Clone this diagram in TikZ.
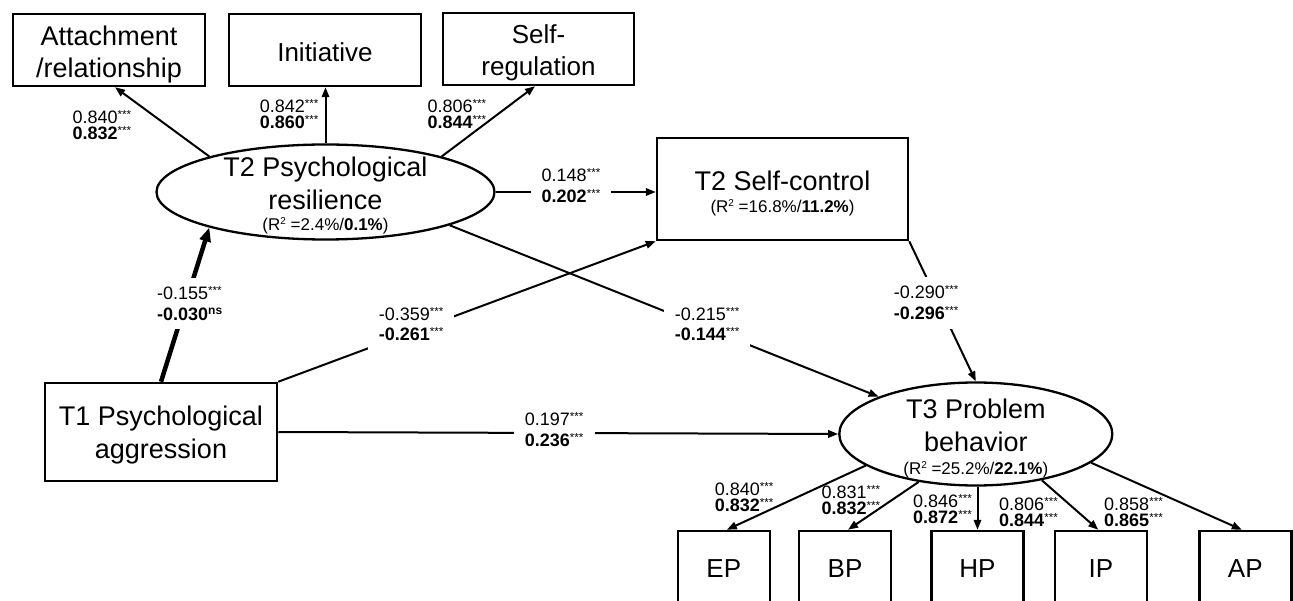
\documentclass[tikz,border=0pt]{standalone}
\usepackage{fontspec}
\setmainfont{Liberation Sans}
\usetikzlibrary{arrows.meta,shapes.geometric,calc}
\newcommand\sig[1]{\raisebox{5pt}{\fontsize{11.6}{11.6}\selectfont #1}}
\newcommand\nsig{\raisebox{6pt}{\fontsize{12}{12}\selectfont\bfseries ns}}
\newcommand\rsq[2]{{\fontsize{17}{17}\selectfont (R\raisebox{6pt}{\fontsize{10}{10}\selectfont 2} =#1/\textbf{#2})}}
\newcommand\tp[1]{\rule{0pt}{#1}}
\begin{document}
\begin{tikzpicture}[x=1pt,y=-1pt,
 box/.style={draw,line width=2.5pt,rectangle,inner sep=0pt,align=center,font=\fontsize{26}{32}\selectfont},
 bigbox/.style={box,font=\fontsize{27}{32}\selectfont},
 lat/.style={draw,line width=2.3pt,ellipse,inner sep=0pt},
 txt/.style={align=center,inner sep=0pt,font=\fontsize{27}{33}\selectfont},
 arr/.style={line width=2pt,-{Triangle[length=10pt,width=7.5pt]}},
 thk/.style={line width=4.5pt,-{Triangle[length=14pt,width=11pt]}},
 lab/.style={align=left,inner sep=0pt,font=\fontsize{18}{16}\selectfont},
 labm/.style={align=left,fill=white,inner xsep=11pt,inner ysep=9pt,font=\fontsize{18}{20.5}\selectfont},
]
\fill[white] (0,0) rectangle (1293,601);
\useasboundingbox (0,0) rectangle (1293,601);
\clip (0,0) rectangle (1293,601);

% nodes
\node[bigbox,minimum width=192pt,minimum height=72pt] (att) at (109,50) {\tp{28pt}Attachment\\/relationship};
\node[box,minimum width=192pt,minimum height=72pt] (ini) at (325,50) {\tp{23.8pt}Initiative};
\node[box,minimum width=191pt,minimum height=72pt] (sr) at (538.5,49) {\tp{27pt}Self-\\regulation};
\node[lat,minimum width=338pt,minimum height=95pt] (t2) at (325.5,192) {};
\node[txt] (t2t) at ($(t2)+(0,3.3)$) {T2 Psychological\\resilience\\[-12pt]\rsq{2.4\%}{0.1\%}};
\node[bigbox,minimum width=251pt,minimum height=102pt] (sc) at (782.5,189) {\tp{28pt}T2 Self-control\\[-10pt]\rsq{16.8\%}{11.2\%}};
\node[bigbox,minimum width=232pt,minimum height=98pt] (t1) at (161,432) {\tp{25pt}T1 Psychological\\[1pt]aggression};
\node[lat,minimum width=273pt,minimum height=103pt] (t3) at (975.8,434) {};
\node[txt] (t3t) at ($(t3)+(0,4.5)$) {T3 Problem\\behavior\\[-10pt]\rsq{25.2\%}{22.1\%}};
\node[box,minimum width=92pt,minimum height=76pt] (ep) at (723.8,569) {EP};
\node[box,minimum width=92pt,minimum height=76pt] (bp) at (845,569) {BP};
\node[box,minimum width=92pt,minimum height=76pt] (hp) at (977.5,569) {HP};
\node[box,minimum width=92pt,minimum height=76pt] (ip) at (1100.8,569) {IP};
\node[box,minimum width=92pt,minimum height=76pt] (ap) at (1245.3,569) {AP};

% connectors
\draw[arr] (t2.163) -- ([xshift=6pt]att.south);
\draw[arr] (t2.north) -- (t2.north |- ini.south);
\draw[arr] (t2.17) -- ([xshift=-3.5pt]sr.south);
\draw[arr] (t2.east) -- (t2.east -| sc.west);
\draw[arr] (t2.-15) -- (t3.159);
\draw[arr] (sc.south east) -- (t3.north);
\draw[thk] (t1.north) -- (t2.197);
\draw[arr] (t1.north east) -- (sc.south west);
\draw[arr] (t1.east) -- (t3.west);
\draw[arr] (t3.196) -- ([xshift=3pt]ep.north);
\draw[arr] (t3.220) -- ([xshift=3pt]bp.north);
\draw[arr] (t3.south -| hp.north) -- (hp.north);
\draw[arr] (t3.-35) -- ([xshift=-2.5pt]ip.north);
\draw[arr] (t3.-14) -- ([xshift=-3.5pt]ap.north);

% loading labels
\node[lab] (l1) at (101.9,125) {0.840\sig{***}\\\textbf{0.832}\sig{***}};
\node[lab] (l2) at (289.2,114.4) {0.842\sig{***}\\\textbf{0.860}\sig{***}};
\node[lab] (l3) at (456.9,114.4) {0.806\sig{***}\\\textbf{0.844}\sig{***}};
\node[lab] (l10) at (744.2,497.5) {0.840\sig{***}\\\textbf{0.832}\sig{***}};
\node[lab] (l11) at (850.9,500) {0.831\sig{***}\\\textbf{0.832}\sig{***}};
\node[lab] (l12) at (942.5,509.5) {0.846\sig{***}\\\textbf{0.872}\sig{***}};
\node[lab] (l13) at (1028.5,512) {0.806\sig{***}\\\textbf{0.844}\sig{***}};
\node[lab] (l14) at (1133.5,512) {0.858\sig{***}\\\textbf{0.865}\sig{***}};

% path labels
\node[labm] (l4) at (571,185.5) {0.148\sig{***}\\\textbf{0.202}\sig{***}};
\node[labm] (l5) at (189.7,303.6) {-0.155\sig{***}\\\textbf{-0.030}\nsig};
\node[labm] (l6) at (411.2,324) {-0.359\sig{***}\\\textbf{-0.261}\sig{***}};
\node[labm] (l7) at (707.2,324) {-0.215\sig{***}\\\textbf{-0.144}\sig{***}};
\node[labm] (l8) at (926.2,302.7) {-0.290\sig{***}\\\textbf{-0.296}\sig{***}};
\node[labm] (l9) at (554.2,429.5) {0.197\sig{***}\\\textbf{0.236}\sig{***}};
\end{tikzpicture}
\end{document}
